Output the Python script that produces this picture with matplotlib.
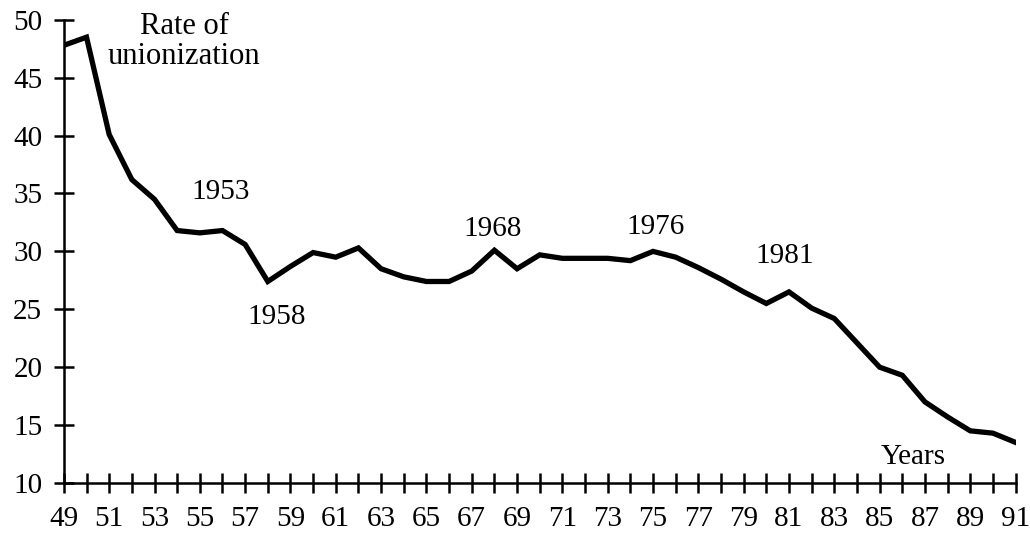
import matplotlib
matplotlib.use("Agg")
import matplotlib.pyplot as plt

# Rate of unionization by year (two-digit years)
years = list(range(49, 92))
rate = [47.8, 48.5, 40.1, 36.2, 34.5, 31.8, 31.6, 31.8, 30.6, 27.4,
        28.7, 29.9, 29.5, 30.3, 28.5, 27.8, 27.4, 27.4, 28.3, 30.1,
        28.5, 29.7, 29.4, 29.4, 29.4, 29.2, 30.0, 29.5, 28.6, 27.6,
        26.5, 25.5, 26.5, 25.1, 24.2, 22.1, 20.0, 19.3, 17.0, 15.7,
        14.5, 14.3, 13.5]

y_ticks = [10, 15, 20, 25, 30, 35, 40, 45, 50]
x_labels = [str(y) if (y - 49) % 2 == 0 else '' for y in years]

# annotations: (text, x, y)
notes = [("1953", 55.9, 35.1), ("1958", 58.4, 24.3), ("1968", 67.9, 31.9),
         ("1976", 75.1, 32.1), ("1981", 80.8, 29.6), ("Years", 86.5, 12.2)]

plt.rcParams['font.family'] = ['Liberation Serif', 'DejaVu Serif']

fig = plt.figure(figsize=(10.3, 5.36), dpi=100)
ax = fig.add_axes([0.062, 0.099, 0.924, 0.864])

ax.plot(years, rate, color='black', lw=3.8, solid_joinstyle='miter')

ax.set_xlim(49, 91)
ax.set_ylim(10, 50)
ax.set_yticks(y_ticks)
ax.set_xticks(years)
ax.set_xticklabels(x_labels)

for side in ['top', 'right']:
    ax.spines[side].set_visible(False)
for side in ['left', 'bottom']:
    ax.spines[side].set_linewidth(1.8)
ax.tick_params(direction='inout', length=15, width=1.8, labelsize=21)
ax.tick_params(axis='x', pad=9)
ax.tick_params(axis='y', pad=8)

ax.text(54.3, 48.1, "Rate of\nunionization", ha='center', va='center',
        fontsize=22, linespacing=1.05)
for t, x, y in notes:
    ax.text(x, y, t, ha='center', va='center', fontsize=21)

fig.savefig("out.png", dpi=100)
